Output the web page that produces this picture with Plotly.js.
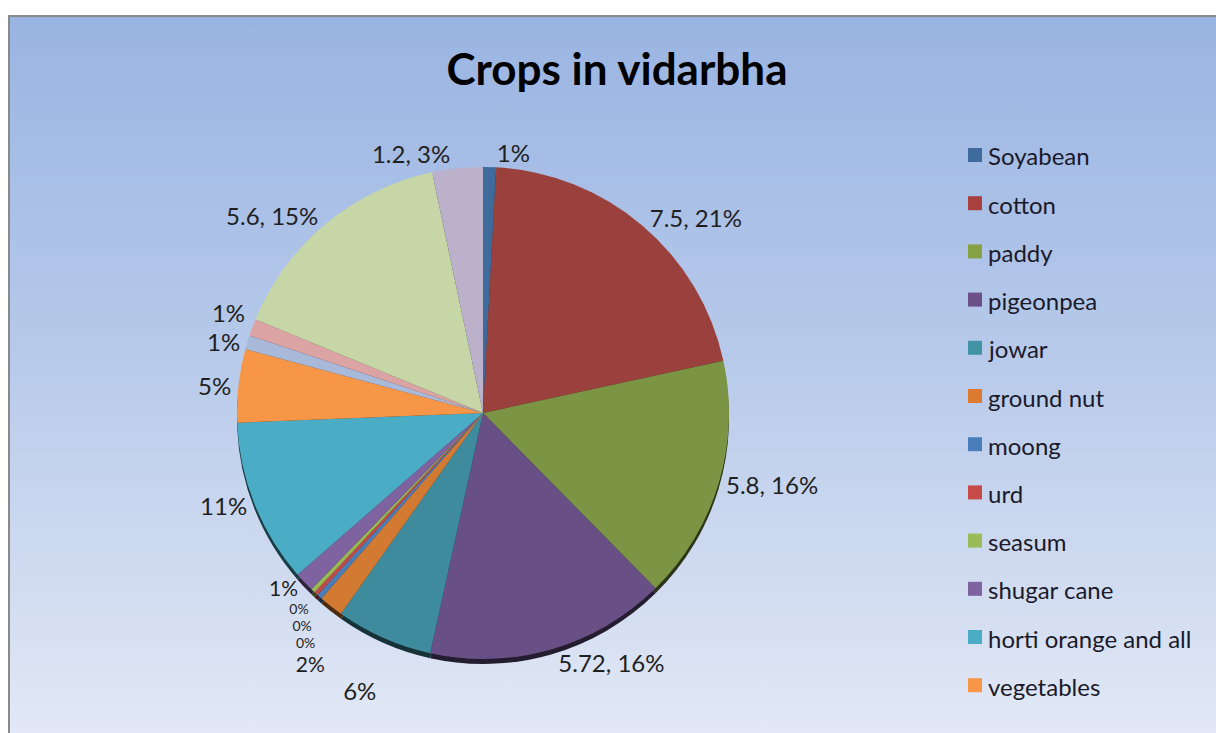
<!DOCTYPE html>
<html>
<head>
<meta charset="utf-8">
<script src="https://cdn.plot.ly/plotly-3.0.1.min.js"></script>
<style>
  html, body { margin: 0; padding: 0; background: #ffffff; overflow: hidden; width: 1216px; height: 733px; }
  #bg { position: absolute; left: 8px; top: 15px; width: 1220px; height: 730px;
        border-left: 2px solid #8a8a8a; border-top: 2px solid #8a8a8a;
        background: linear-gradient(to bottom, #9ab4e2 0%, #b6c9ea 45%, #d3ddf1 80%, #e4eaf6 100%); }
  #chart { position: absolute; left: 0; top: 0; width: 1216px; height: 733px; }
  #chart path.textline { display: none; }
</style>
</head>
<body>
<div id="bg"></div>
<div id="chart"></div>
<script>
// ---- data ----
const categories = ["Soyabean", "cotton", "paddy", "pigeonpea", "jowar", "ground nut", "moong", "urd",
                    "seasum", "shugar cane", "horti orange and all", "vegetables",
                    "other 1", "other 2", "other 3", "other 4"];
const values = [0.31, 7.5, 5.8, 5.72, 2.3, 0.58, 0.12, 0.1, 0.1, 0.47, 3.9, 1.74, 0.33, 0.4, 5.6, 1.2];
// which slices show "value, percent" (true) vs only percent (false)
const showValue = [false, true, true, true, false, false, false, false, false, false, false, false, false, false, true, true];
const sliceColors = ["#3e6a9c", "#9a403d", "#7b9545", "#684f85", "#3f8b9e", "#d37a32", "#4a7ebb", "#be4b48",
                     "#98b954", "#7f63a1", "#4bacc6", "#f79646", "#a8b9d9", "#dba3a3", "#c7d6a7", "#bcb1cb"];
const legendColors = ["#3e6a9c", "#a8403d", "#86a044", "#6a4f88", "#3f93a3", "#dc7a30", "#4a7ebb", "#c84a48",
                      "#9bbb59", "#7f63a1", "#4bacc6", "#f79646"];
const legendShown = 12; // the original legend only lists the first 12 entries

// ---- layout constants ----
const W = 1216, H = 733;
const cx = 483, cy = 413, r = 246;
const FONT = "Lato, 'Open Sans', sans-serif";
// crowded tiny slices get a smaller label so the stacked labels stay on the chart
const labelSizes = [24, 24, 24, 24, 24, 21, 14, 14, 14, 21, 24, 24, 24, 24, 24, 24];

const shadowColors = sliceColors.map(c => {
  const n = parseInt(c.slice(1), 16);
  const f = 0.35;
  const rr = Math.round(((n >> 16) & 255) * f), gg = Math.round(((n >> 8) & 255) * f), bb = Math.round((n & 255) * f);
  return "rgb(" + rr + "," + gg + "," + bb + ")";
});

const texttemplate = showValue.map(s => s ? "%{value}, %{percent:.0%}" : "%{percent:.0%}");

const dom = (dy) => ({
  x: [(cx - r) / W, (cx + r) / W],
  y: [1 - (cy + r + dy) / H, 1 - (cy - r + dy) / H]
});

const shadow = {
  type: "pie", labels: categories, values: values, sort: false, direction: "clockwise", rotation: 0,
  marker: { colors: shadowColors, line: { width: 0 } },
  textinfo: "none", hoverinfo: "skip", showlegend: false, domain: dom(5)
};

const pie = {
  type: "pie", labels: categories, values: values, sort: false, direction: "clockwise", rotation: 0,
  marker: { colors: sliceColors, line: { width: 0 } },
  texttemplate: texttemplate, textposition: "outside",
  outsidetextfont: { family: FONT, size: labelSizes, color: "#1f1f1f" },
  showlegend: false, domain: dom(0)
};

// legend built from the category / colour arrays
const shapes = [], annotations = [];
const legTop = 155, legStep = 48.2, sq = 14, sqX = 968, txtX = 986;
for (let i = 0; i < legendShown; i++) {
  const yc = legTop + i * legStep;
  shapes.push({ type: "rect", xref: "paper", yref: "paper",
    x0: sqX / W, x1: (sqX + sq) / W, y0: 1 - (yc + sq / 2) / H, y1: 1 - (yc - sq / 2) / H,
    fillcolor: legendColors[i], line: { width: 0 } });
  annotations.push({ xref: "paper", yref: "paper", x: txtX / W, y: 1 - (yc + 1) / H,
    xanchor: "left", yanchor: "middle", showarrow: false, text: categories[i],
    font: { family: FONT, size: 24, color: "#1a1a2a" } });
}

const layout = {
  width: W, height: H,
  margin: { l: 0, r: 0, t: 0, b: 0 },
  paper_bgcolor: "rgba(0,0,0,0)", plot_bgcolor: "rgba(0,0,0,0)",
  title: { text: "<b>Crops in vidarbha</b>", x: 617 / W, xanchor: "center", y: 1 - 70 / H, yanchor: "middle",
           font: { family: FONT, size: 44, color: "#000000" } },
  showlegend: false,
  shapes: shapes, annotations: annotations
};

Plotly.newPlot("chart", [shadow, pie], layout, { displayModeBar: false, staticPlot: true });
</script>
</body>
</html>
